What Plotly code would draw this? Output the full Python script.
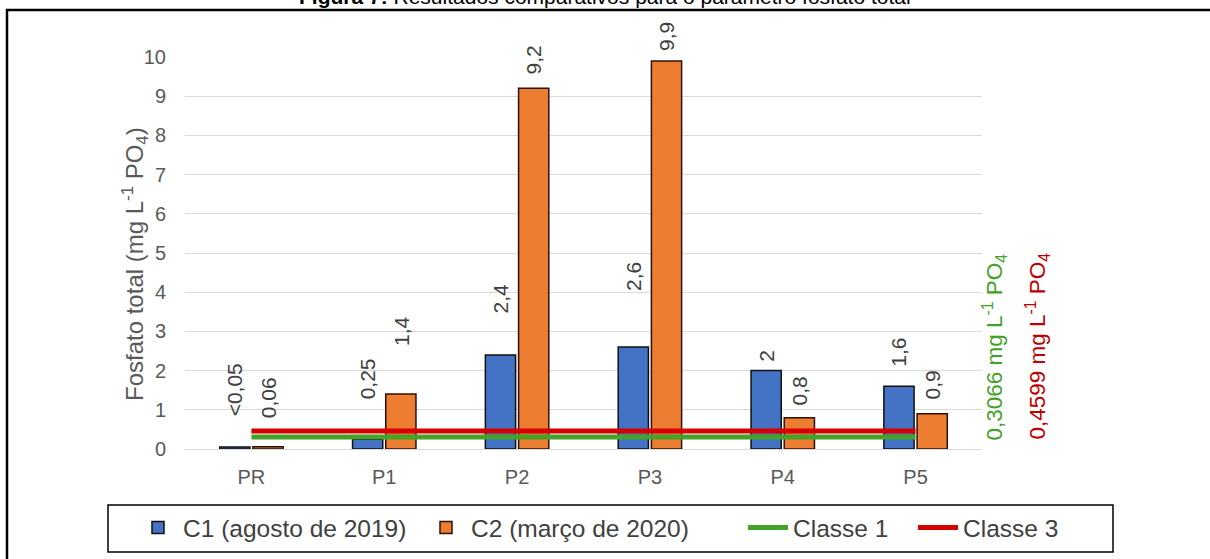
import plotly.graph_objects as go

# ---- data -------------------------------------------------------------
categorias = ["PR", "P1", "P2", "P3", "P4", "P5"]
c1_valores = [0.05, 0.25, 2.4, 2.6, 2.0, 1.6]
c1_rotulos = ["<0,05", "0,25", "2,4", "2,6", "2", "1,6"]
c2_valores = [0.06, 1.4, 9.2, 9.9, 0.8, 0.9]
c2_rotulos = ["0,06", "1,4", "9,2", "9,9", "0,8", "0,9"]
classe1_limite = 0.3066
classe3_limite = 0.4599
classe1_rotulo = "0,3066 mg L<sup>-1</sup> PO<sub>4</sub>"
classe3_rotulo = "0,4599 mg L<sup>-1</sup> PO<sub>4</sub>"
y_ticks = list(range(0, 11))

# ---- page geometry (pixels) -------------------------------------------
W, H = 1210, 559
PL, PR_, PT, PB = 185, 982, 57, 449   # plot area edges


def px_x(p):
    return (p - PL) / (PR_ - PL)


def px_y(p):
    return (PB - p) / (PB - PT)


FONT = "Liberation Sans, Arial, sans-serif"
GRAY = "#595959"
LABEL = "#404040"
BLUE = "#4472C4"
ORANGE = "#ED7D31"
GREEN = "#46A12A"
RED = "#D60000"

BARGAP = 0.5
BARGROUPGAP = 0.09
# horizontal offset of each series' bar centre inside a group
slot = (1 - BARGAP) / 2
offsets = [-slot / 2, slot / 2]
# vertical distance (px) between each bar top and its value label
c1_gap = [32, 41, 43, 57, 10, 21]
c2_gap = [29, 49, 15, 11, 13, 15]

pos = list(range(len(categorias)))

fig = go.Figure()
fig.add_trace(go.Bar(
    x=pos, y=c1_valores, name="C1 (agosto de 2019)", legend="legend",
    marker=dict(color=BLUE, line=dict(color="#111111", width=1.5)),
    cliponaxis=False,
))
fig.add_trace(go.Bar(
    x=pos, y=c2_valores, name="C2 (março de 2020)", legend="legend2",
    marker=dict(color=ORANGE, line=dict(color="#2a1208", width=1.5)),
    cliponaxis=False,
))
fig.add_trace(go.Scatter(
    x=[pos[0], pos[-1]], y=[classe1_limite] * 2, mode="lines",
    name="Classe 1", legend="legend3", line=dict(color=GREEN, width=5),
))
fig.add_trace(go.Scatter(
    x=[pos[0], pos[-1]], y=[classe3_limite] * 2, mode="lines",
    name="Classe 3", legend="legend4", line=dict(color=RED, width=5),
))

annotations = []
# value labels above the bars, rotated
for serie, (vals, rots, gaps) in enumerate([(c1_valores, c1_rotulos, c1_gap),
                                             (c2_valores, c2_rotulos, c2_gap)]):
    for i, (v, t, g) in enumerate(zip(vals, rots, gaps)):
        annotations.append(dict(
            x=pos[i] + offsets[serie], y=v, xref="x", yref="y",
            text=t, textangle=-90, showarrow=False,
            xanchor="center", yanchor="bottom", yshift=g - 3,
            font=dict(size=21, color=LABEL, family=FONT)))

annotations += [
    # figure caption (partly above the page edge)
    dict(text="<b>Figura 7:</b> Resultados comparativos para o parâmetro fosfato total",
         xref="paper", yref="paper", x=px_x(605), y=px_y(-3),
         xanchor="center", yanchor="middle", showarrow=False,
         font=dict(size=21, color="#000000", family=FONT)),
    # y-axis title
    dict(text="Fosfato total (mg L<sup>-1</sup> PO<sub>4</sub>)",
         xref="paper", yref="paper", x=px_x(135), y=px_y(264),
         xanchor="center", yanchor="middle", textangle=-90, showarrow=False,
         font=dict(size=24, color=GRAY, family=FONT)),
    dict(text=classe1_rotulo, xref="paper", yref="paper",
         x=px_x(994), y=px_y(442), xanchor="center", yanchor="bottom",
         textangle=-90, showarrow=False,
         font=dict(size=22.5, color=GREEN, family=FONT)),
    dict(text=classe3_rotulo, xref="paper", yref="paper",
         x=px_x(1037), y=px_y(442), xanchor="center", yanchor="bottom",
         textangle=-90, showarrow=False,
         font=dict(size=22.5, color="#C00000", family=FONT)),
]

shapes = [
    # outer frame of the figure
    dict(type="rect", xref="paper", yref="paper",
         x0=px_x(7), x1=px_x(1240), y0=px_y(600), y1=px_y(10),
         line=dict(color="#000000", width=2.5), layer="below"),
    # frame around the legend entries
    dict(type="rect", xref="paper", yref="paper",
         x0=px_x(108), x1=px_x(1113), y0=px_y(552), y1=px_y(505),
         line=dict(color="#000000", width=1.5), layer="below"),
]


def legend_at(px_left):
    return dict(orientation="h", x=px_x(px_left), y=px_y(505),
                xanchor="left", yanchor="top", borderwidth=0,
                bgcolor="rgba(0,0,0,0)",
                font=dict(size=24.5, color=LABEL, family=FONT),
                itemwidth=40)


fig.update_layout(
    width=W, height=H,
    margin=dict(l=PL, r=W - PR_, t=PT, b=H - PB, pad=0, autoexpand=False),
    paper_bgcolor="white", plot_bgcolor="white",
    barmode="group", bargap=BARGAP, bargroupgap=BARGROUPGAP,
    font=dict(family=FONT, color=GRAY, size=20),
    xaxis=dict(range=[-0.5, len(categorias) - 0.5], tickmode="array",
               tickvals=pos, ticktext=categorias, showgrid=False,
               zeroline=False, showline=False, ticks="",
               ticklabelstandoff=14, tickfont=dict(size=20, color=GRAY)),
    yaxis=dict(range=[0, 10], tickmode="array", tickvals=y_ticks,
               showgrid=True, gridcolor="#D9D9D9", gridwidth=1.2,
               zeroline=True, zerolinecolor="#D9D9D9", zerolinewidth=1.2,
               ticks="", ticklabelstandoff=18,
               tickfont=dict(size=20, color=GRAY)),
    legend=legend_at(133),
    legend2=legend_at(421),
    legend3=legend_at(743),
    legend4=legend_at(913),
    annotations=annotations,
    shapes=shapes,
    showlegend=True,
)

fig.write_html("out.html")
